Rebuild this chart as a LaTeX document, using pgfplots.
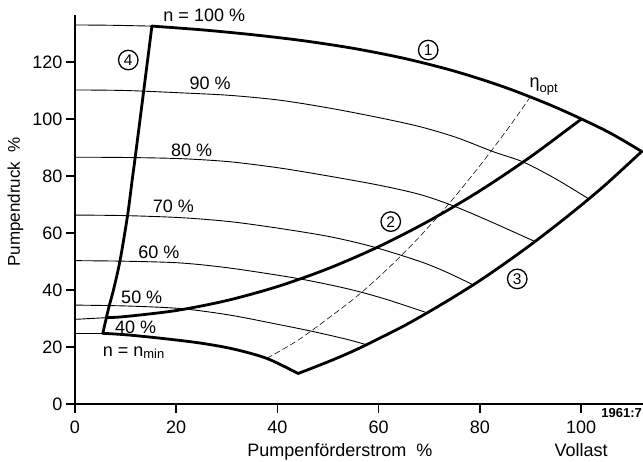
\documentclass[border=0pt]{standalone}
\usepackage{fontspec}
\setmainfont{Liberation Sans}
\usepackage{pgfplots}
\pgfplotsset{compat=1.18}
\begin{document}
\begin{tikzpicture}[
  thinline/.style={line width=0.9pt, black, smooth, tension=0.5},
  thickline/.style={line width=2.8pt, black, line join=round, line cap=round, smooth, tension=0.5},
  circ/.style={draw, circle, line width=1.3pt, minimum size=19.5pt, inner sep=0pt, font=\fontsize{15.5}{15.5}\selectfont},
  lab/.style={anchor=base west, font=\fontsize{18}{20}\selectfont, inner sep=0pt},
]
\path[use as bounding box] (-75pt,-58pt) rectangle (568pt,404pt);
\begin{axis}[
  at={(0,0)}, anchor=south west,
  width=568pt, height=389pt, scale only axis,
  xmin=0, xmax=112.25, ymin=0, ymax=136.5,
  axis x line=bottom, axis y line=left,
  axis line style={line width=1.8pt, -},
  xtick={0,20,...,100}, ytick={0,20,...,120},
  tick align=outside, major tick length=9pt,
  tick style={line width=1.5pt, black},
  clip=false,
  tick label style={font=\fontsize{18}{20}\selectfont},
  xticklabel style={yshift=-4pt},
  /pgf/number format/assume math mode=true,
  xlabel={Pumpenförderstrom\ \ \%}, ylabel={Pumpendruck\ \ \%},
  xlabel style={at={(axis description cs:0.4665,-0.1355)}, anchor=base, font=\fontsize{18}{20}\selectfont},
  ylabel style={at={(axis description cs:-0.1048,0.52)}, anchor=center, font=\fontsize{17}{20}\selectfont},
]
% thin pump curves (n = 100 % ... 40 %)
\addplot[thinline] coordinates {(0,133.0) (7,132.9) (15.2,132.6)};
\addplot[thinline] coordinates {(0,110.2) (10,110.0) (20.75,109.2) (30.6,108.3) (40.5,106.6) (50.4,103.8) (60.3,100.4) (68.2,97.3) (75.4,93.5) (82.7,88.5) (88.6,84.9) (95,79.0) (101.5,72.0)};
\addplot[thinline] coordinates {(0,86.6) (10,86.5) (20.75,86.1) (30.6,85.0) (40.5,82.8) (50.4,79.9) (60.3,76.7) (68.2,73.5) (74.8,69.5) (82,64.1) (90.9,57.0)};
\addplot[thinline] coordinates {(0,66.3) (10,66.1) (20.75,65.4) (30.6,64.0) (40.5,61.6) (50.4,58.7) (59,55.1) (68.2,50.0) (73.5,46.2) (78.7,41.8)};
\addplot[thinline] coordinates {(0,50.3) (10,50.1) (20.75,49.5) (30.6,47.7) (43.8,44.1) (53.7,40.5) (61,37.0) (69.6,32.0)};
\addplot[thinline] coordinates {(0,34.7) (10,34.4) (20.75,33.5) (30.6,31.2) (40.5,27.8) (47.1,25.4) (53.7,22.7) (57.6,20.8)};
\addplot[thinline] coordinates {(0,29.7) (6.3,30.3)};
\addplot[thinline] coordinates {(0,24.8) (5.5,24.8)};
% eta_opt dashed
\addplot[line width=0.55pt, black, dash pattern=on 6pt off 3pt, smooth] coordinates {(37.9,16.0) (44,22.3) (50,30.0) (56,38.2) (62,47.8) (68,58.5) (74,70.5) (80,83.6) (86,97.7) (89.8,107.3)};
% thick boundary curves
\addplot[thickline] coordinates {(15.2,132.6) (25,131.3) (35,129.6) (45,127.5) (55,124.8) (65,121.3) (75,116.8) (85,111.1) (95,104.1) (105,95.8) (112,88.6)};
\addplot[thickline] coordinates {(6.3,30.3) (10,30.7) (20,32.8) (30,36.3) (40,41.2) (50,47.5) (60,55.2) (70,64.3) (80,74.8) (90,86.7) (100,99.9)};
\addplot[thickline] coordinates {(44.1,10.7) (50,14.8) (55,18.6) (60,22.9) (65,27.4) (70,32.4) (75,37.7) (80,43.3) (85,49.4) (90,55.8) (95,62.6) (100,69.7) (105,77.2) (112,88.6)};
\addplot[thickline] coordinates {(5.5,24.8) (10,24.3) (16.8,23.1) (24.7,21.4) (31.3,19.3) (37.9,16.0) (44.1,10.7)};
\addplot[thickline] coordinates {(5.5,24.8) (6.2,30.3) (6.8,34.7) (7.6,40.0) (8.9,50.3) (10.4,66.3) (11.3,78.6) (11.9,86.6) (13.6,110.2) (15.2,132.6)};
% labels
\node[lab] at (axis cs:17.45,134.1) {n = 100 \%};
\node[lab] at (axis cs:22.6,110.4) {90 \%};
\node[lab] at (axis cs:18.97,86.8) {80 \%};
\node[lab] at (axis cs:15.35,67.3) {70 \%};
\node[lab] at (axis cs:12.5,51.0) {60 \%};
\node[lab] at (axis cs:9.1,35.1) {50 \%};
\node[lab] at (axis cs:7.9,24.6) {40 \%};
\node[lab] at (axis cs:5.47,16.8) {n = n\raisebox{-2pt}{\fontsize{13}{15}\selectfont min}};
\node[lab] at (axis cs:89.8,111.1) {η\raisebox{-5pt}{\fontsize{13}{15}\selectfont opt}};
\node[circ] at (axis cs:10.53,120.7) {4};
\node[circ] at (axis cs:69.8,124.2) {1};
\node[circ] at (axis cs:62.4,64.0) {2};
\node[circ] at (axis cs:87.4,43.9) {3};
\node[anchor=base, font=\fontsize{18}{20}\selectfont] at (axis description cs:0.891,-0.1355) {Vollast};
\node[anchor=base east, font=\bfseries\fontsize{13}{15}\selectfont, inner sep=0pt] at (axis cs:112.06,-4.9) {1961:7};
\end{axis}
\end{tikzpicture}
\end{document}
